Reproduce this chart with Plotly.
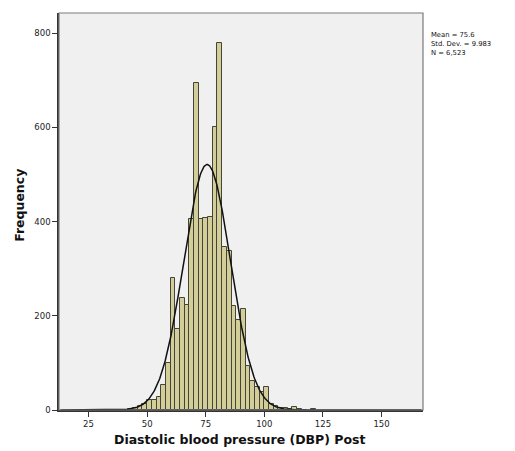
import numpy as np
import plotly.graph_objects as go

# Histogram data (bin width 2)
bin_left = [22, 38, 40, 42, 44, 46, 48, 50, 52, 54, 56, 58, 60, 62, 64, 66, 68, 70, 72, 74,
            76, 78, 80, 82, 84, 86, 88, 90, 92, 94, 96, 98, 100, 102, 104, 106, 108, 110,
            112, 114, 116, 120]
counts = [1, 1, 1, 2, 5, 8, 12, 21, 21, 28, 54, 100, 280, 173, 238, 224, 405, 695, 406, 408,
          409, 600, 779, 346, 337, 220, 192, 215, 93, 61, 49, 38, 49, 12, 9, 5, 5, 3,
          7, 2, 1, 3]
bin_width = 2
mean = 75.6
sd = 9.983
n_total = 6523
x_ticks = [25, 50, 75, 100, 125, 150]
y_ticks = [0, 200, 400, 600, 800]
stats_lines = ["Mean = 75.6", "Std. Dev. = 9.983", "N = 6,523"]
x_title = "Diastolic blood pressure (DBP) Post"
y_title = "Frequency"

centers = [b + bin_width / 2 for b in bin_left]

fig = go.Figure()
fig.add_trace(go.Bar(
    x=centers, y=counts, width=[bin_width] * len(centers),
    marker=dict(color="#D3CE97", line=dict(color="#45443a", width=1)),
    showlegend=False, hoverinfo="x+y"))

xs = np.linspace(13, 167, 600)
ys = n_total * bin_width / (sd * np.sqrt(2 * np.pi)) * np.exp(-0.5 * ((xs - mean) / sd) ** 2)
fig.add_trace(go.Scatter(x=xs, y=ys, mode="lines", line=dict(color="#111111", width=1.5),
                         showlegend=False, hoverinfo="skip"))

font_family = "DejaVu Sans, Verdana, sans-serif"
fig.update_layout(
    width=515, height=451,
    margin=dict(l=59, r=92, t=13, b=41),
    paper_bgcolor="white", plot_bgcolor="#F0F0F0",
    bargap=0,
    font=dict(family=font_family, size=8.5, color="#222"),
    xaxis=dict(range=[12.4, 167.7], tickvals=x_ticks, ticks="outside", ticklen=5,
               tickcolor="#333", showgrid=False, zeroline=False, showline=True,
               linecolor="#333", linewidth=1.5, automargin=False),
    yaxis=dict(range=[0, 843], tickvals=y_ticks, ticks="outside", ticklen=5,
               tickcolor="#333", showgrid=False, zeroline=False, showline=True,
               linecolor="#333", linewidth=1.5, automargin=False),
)

# plot frame (top/right border)
fig.add_shape(type="rect", xref="paper", yref="paper", x0=0, y0=0, x1=1, y1=1,
              line=dict(color="#7a7a7a", width=1.2), layer="above")

# axis titles
fig.add_annotation(text="<b>" + x_title + "</b>", xref="paper", yref="paper",
                   x=0.4986, y=-0.0755, xanchor="center", yanchor="middle", showarrow=False,
                   font=dict(size=12.5, family=font_family, color="#111"))
fig.add_annotation(text="<b>" + y_title + "</b>", xref="paper", yref="paper",
                   x=-0.1107, y=0.516, xanchor="center", yanchor="middle", showarrow=False,
                   textangle=-90, font=dict(size=12.5, family=font_family, color="#111"))

# statistics box text
fig.add_annotation(text="<br>".join(stats_lines), xref="paper", yref="paper",
                   x=1.016, y=0.96, xanchor="left", yanchor="top", align="left",
                   showarrow=False, font=dict(size=6.8, family=font_family, color="#111"))

fig.write_html("out.html")
